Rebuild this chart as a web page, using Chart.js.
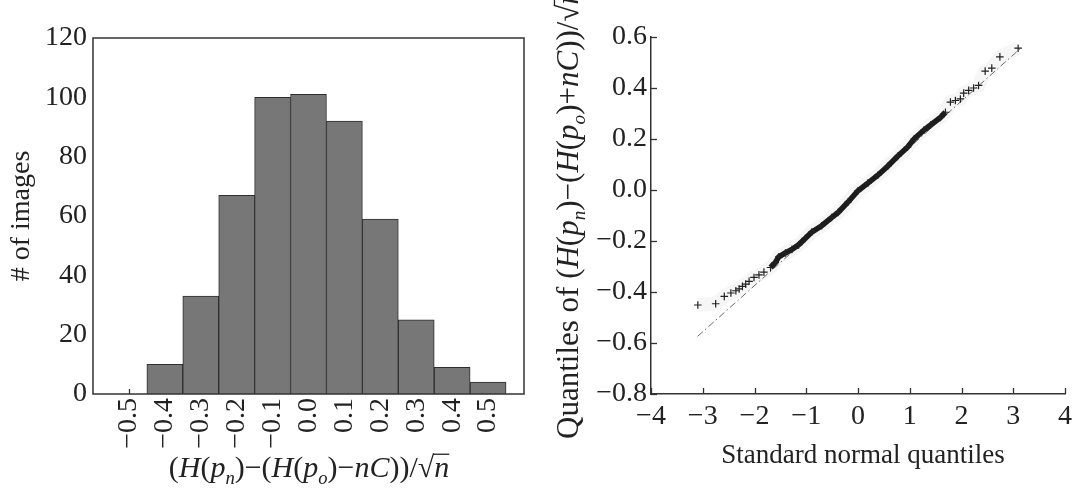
<!DOCTYPE html>
<html>
<head>
<meta charset="utf-8">
<script src="https://cdn.jsdelivr.net/npm/chart.js@4.4.1/dist/chart.umd.min.js"></script>
<style>
html, body { margin: 0; padding: 0; background: #fff; }
#wrap { position: relative; width: 1078px; height: 488px; overflow: hidden; }
.panel { position: absolute; top: 0; height: 488px; }
#izq { left: 0; width: 540px; }
#der { left: 540px; width: 538px; }
</style>
</head>
<body>
<div id="wrap">
  <div class="panel" id="izq"><canvas id="histograma"></canvas></div>
  <div class="panel" id="der"><canvas id="qqplot"></canvas></div>
</div>
<script>
// Histograma: centros de los bins y conteos
const centrosBins = [-0.5, -0.4, -0.3, -0.2, -0.1, 0.0, 0.1, 0.2, 0.3, 0.4, 0.5];
const conteos = [0, 10, 33, 67, 100, 101, 92, 59, 25, 9, 4];
const etiquetasBins = ['\u22120.5', '\u22120.4', '\u22120.3', '\u22120.2', '\u22120.1', '0.0', '0.1', '0.2', '0.3', '0.4', '0.5'];
const ticksHistY = [0, 20, 40, 60, 80, 100, 120];

const qqX = [-3.095, -2.75, -2.584, -2.456, -2.36, -2.297, -2.233, -2.17, -2.105, -2.01, -1.914, -1.818,
  -1.69, -1.6, -1.53, -1.403, -1.276, -1.148, -1.02, -0.894, -0.702, -0.511, -0.383, -0.191, 0.0,
  0.191, 0.383, 0.574, 0.766, 0.957, 1.085, 1.275, 1.403, 1.595, 1.69, 1.786, 1.882, 1.978, 2.042,
  2.138, 2.234, 2.33, 2.457, 2.585, 2.742, 3.094];
const qqY = [-0.451, -0.446, -0.417, -0.404, -0.395, -0.388, -0.378, -0.369, -0.358, -0.343, -0.333, -0.322,
  -0.304, -0.285, -0.262, -0.247, -0.233, -0.215, -0.19, -0.165, -0.14, -0.108, -0.088, -0.047, -0.003,
  0.027, 0.058, 0.093, 0.132, 0.168, 0.2, 0.235, 0.255, 0.285, 0.305, 0.345, 0.351, 0.357, 0.38,
  0.391, 0.4, 0.41, 0.466, 0.478, 0.522, 0.556];
// Recta de referencia (dash-dot)
const refX = [-3.1, 3.15];
const refY = [-0.574, 0.557];
const ticksQQX = [-4, -3, -2, -1, 0, 1, 2, 3, 4];
const etiquetasQQX = ['\u22124', '\u22123', '\u22122', '\u22121', '0', '1', '2', '3', '4'];
const ticksQQY = [-0.8, -0.6, -0.4, -0.2, 0.0, 0.2, 0.4, 0.6];
const etiquetasQQY = ['\u22120.8', '\u22120.6', '\u22120.4', '\u22120.2', '0.0', '0.2', '0.4', '0.6'];

const FUENTE = '"Liberation Serif", "Times New Roman", serif';
const TINTA = '#222';

Chart.defaults.font.family = FUENTE;
Chart.defaults.font.size = 28;
Chart.defaults.color = TINTA;
Chart.defaults.animation = false;

// Dibuja texto con partes en cursiva y subindices
function dibujarTexto(ctx, partes, cx, cy, size, vertical) {
    ctx.save();
    ctx.translate(cx, cy);
    if (vertical) ctx.rotate(-Math.PI / 2);
    ctx.fillStyle = TINTA;
    ctx.textBaseline = 'alphabetic';
    ctx.textAlign = 'left';
    const fuente = p => (p.i ? 'italic ' : '') + (p.sub ? size * 0.62 : size) + 'px ' + FUENTE;
    let total = 0;
    partes.forEach(p => {
        ctx.font = fuente(p);
        p.w = ctx.measureText(p.t).width;
        total += p.w;
    });
    let x = -total / 2;
    partes.forEach(p => {
        ctx.font = fuente(p);
        ctx.fillText(p.t, x, p.sub ? size * 0.24 : 0);
        if (p.sobre) ctx.fillRect(x - 1, -size * 0.78, p.w + 1, 1.3);
        x += p.w;
    });
    ctx.restore();
}

const tituloXHist = [
    {t: '('}, {t: 'H', i: 1}, {t: '('}, {t: 'p', i: 1}, {t: 'n', i: 1, sub: 1}, {t: ')\u2212('},
    {t: 'H', i: 1}, {t: '('}, {t: 'p', i: 1}, {t: 'o', i: 1, sub: 1}, {t: ')\u2212'},
    {t: 'nC', i: 1}, {t: '))/'}, {t: '\u221A'}, {t: 'n', i: 1, sobre: 1}
];
const tituloYQQ = [
    {t: 'Quantiles of ('}, {t: 'H', i: 1}, {t: '('}, {t: 'p', i: 1}, {t: 'n', i: 1, sub: 1}, {t: ')\u2212('},
    {t: 'H', i: 1}, {t: '('}, {t: 'p', i: 1}, {t: 'o', i: 1, sub: 1}, {t: ')+'},
    {t: 'nC', i: 1}, {t: '))/'}, {t: '\u221A'}, {t: 'n', i: 1, sobre: 1}
];

// Marco, ticks hacia adentro y titulos del histograma
const marcoHist = {
    id: 'marcoHist',
    beforeDatasetsDraw(chart) {
        const {ctx, chartArea: a, scales: {x}} = chart;
        ctx.save();
        ctx.strokeStyle = '#333';
        ctx.lineWidth = 1.3;
        centrosBins.forEach(v => {
            const px = Math.round(x.getPixelForValue(v)) + 0.5;
            ctx.beginPath();
            ctx.moveTo(px, a.bottom);
            ctx.lineTo(px, a.bottom - 5);
            ctx.stroke();
        });
        ctx.restore();
    },
    afterDraw(chart) {
        const {ctx, chartArea: a} = chart;
        ctx.save();
        ctx.strokeStyle = '#333';
        ctx.lineWidth = 1.5;
        ctx.strokeRect(a.left, a.top, a.right - a.left, a.bottom - a.top);
        ctx.restore();
        dibujarTexto(ctx, [{t: '# of images'}], 29, 216, 28, true);
        dibujarTexto(ctx, tituloXHist, 309, 477, 30, false);
    }
};

// Ticks hacia adentro y titulos del QQ plot
const ejesQQ = {
    id: 'ejesQQ',
    afterDraw(chart) {
        const {ctx, chartArea: a, scales: {x, y}} = chart;
        ctx.save();
        ctx.strokeStyle = '#333';
        ctx.lineWidth = 1.3;
        ticksQQX.forEach(v => {
            const px = Math.round(x.getPixelForValue(v)) + 0.5;
            ctx.beginPath();
            ctx.moveTo(px, a.bottom);
            ctx.lineTo(px, a.bottom - 6);
            ctx.stroke();
        });
        ticksQQY.forEach(v => {
            const py = Math.round(y.getPixelForValue(v)) + 0.5;
            ctx.beginPath();
            ctx.moveTo(a.left, py);
            ctx.lineTo(a.left + 6, py);
            ctx.stroke();
        });
        ctx.restore();
        dibujarTexto(ctx, tituloYQQ, 38, 214, 31, true);
        dibujarTexto(ctx, [{t: 'Standard normal quantiles'}], 323, 463, 27, false);
    }
};

// Histograma
new Chart(document.getElementById('histograma'), {
    type: 'bar',
    data: {
        datasets: [{
            data: centrosBins.map((c, i) => ({x: c, y: conteos[i]})),
            backgroundColor: '#777777',
            borderColor: '#2e2e2e',
            borderWidth: 1,
            barPercentage: 1,
            categoryPercentage: 1
        }]
    },
    options: {
        responsive: true,
        maintainAspectRatio: false,
        layout: { padding: { top: 38, right: 16, left: 0, bottom: 0 } },
        plugins: { legend: { display: false }, tooltip: { enabled: false } },
        scales: {
            x: {
                type: 'linear',
                offset: false,
                min: -0.6,
                max: 0.6,
                afterBuildTicks: s => { s.ticks = centrosBins.map(v => ({value: v})); },
                afterFit: s => { s.height = 94; },
                grid: { display: false, drawTicks: false },
                border: { display: false },
                ticks: {
                    minRotation: 90,
                    maxRotation: 90,
                    padding: 4,
                    autoSkip: false,
                    callback: (v, i) => etiquetasBins[i]
                }
            },
            y: {
                min: 0,
                max: 120,
                afterBuildTicks: s => { s.ticks = ticksHistY.map(v => ({value: v})); },
                afterFit: s => { s.width = 93; },
                grid: { display: false, drawTicks: false },
                border: { display: false },
                ticks: { padding: 6, callback: v => String(v) }
            }
        }
    },
    plugins: [marcoHist]
});

// QQ plot
new Chart(document.getElementById('qqplot'), {
    type: 'scatter',
    data: {
        datasets: [
            {
                // halo gris tenue alrededor de los puntos
                data: qqX.map((v, i) => ({x: v, y: qqY[i]})),
                showLine: true,
                borderColor: 'rgba(0,0,0,0.035)',
                borderWidth: 14,
                pointRadius: 0,
                order: 3
            },
            {
                data: refX.map((v, i) => ({x: v, y: refY[i]})),
                showLine: true,
                borderColor: '#6a6a6a',
                borderWidth: 1,
                borderDash: [7, 3, 1.5, 3],
                pointRadius: 0,
                order: 2
            },
            {
                data: qqX.map((v, i) => ({x: v, y: qqY[i]})),
                showLine: true,
                borderWidth: 5.5,
                segment: {
                    borderColor: c => (c.p0.parsed.x >= -1.8 && c.p1.parsed.x <= 1.7) ? '#1c1c1c' : 'rgba(0,0,0,0)'
                },
                pointStyle: 'cross',
                pointRadius: 3.8,
                pointBorderWidth: 1.2,
                pointBorderColor: '#222',
                order: 1
            }
        ]
    },
    options: {
        responsive: true,
        maintainAspectRatio: false,
        layout: { padding: { top: 37, right: 9, left: 0, bottom: 0 } },
        plugins: { legend: { display: false }, tooltip: { enabled: false } },
        scales: {
            x: {
                min: -4,
                max: 4,
                afterBuildTicks: s => { s.ticks = ticksQQX.map(v => ({value: v})); },
                afterFit: s => { s.height = 94; },
                grid: { display: false, drawTicks: false },
                border: { display: true, color: '#333', width: 1.5 },
                ticks: { padding: 6, autoSkip: false, maxRotation: 0, callback: (v, i) => etiquetasQQX[i] }
            },
            y: {
                min: -0.8,
                max: 0.6,
                afterBuildTicks: s => { s.ticks = ticksQQY.map(v => ({value: v})); },
                afterFit: s => { s.width = 111; },
                grid: { display: false, drawTicks: false },
                border: { display: true, color: '#333', width: 1.5 },
                ticks: { padding: 4, autoSkip: false, callback: (v, i) => etiquetasQQY[i] }
            }
        }
    },
    plugins: [ejesQQ]
});
</script>
</body>
</html>
